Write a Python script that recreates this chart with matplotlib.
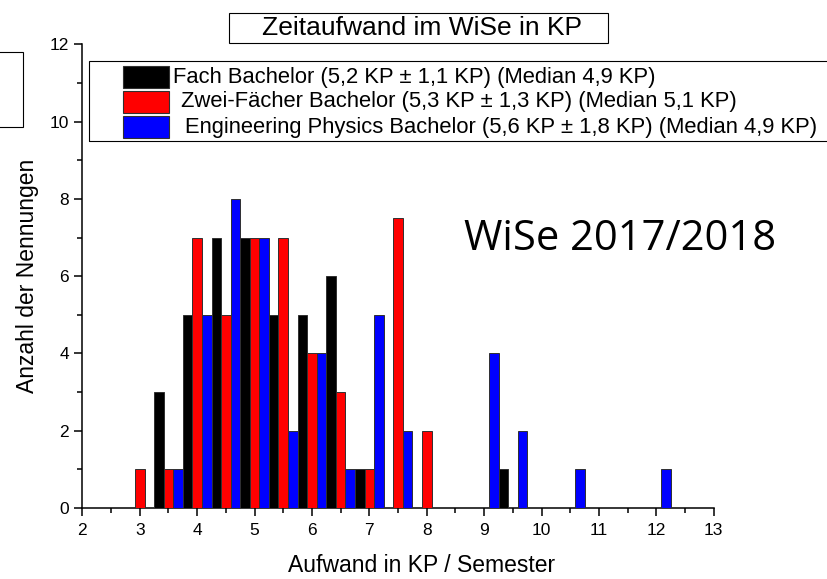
import numpy as np
import matplotlib.pyplot as plt
from matplotlib.patches import Rectangle
from matplotlib.ticker import MultipleLocator

# Klassenmitten (KP / Semester) und Anzahl der Nennungen
centers = [3.0, 3.5, 4.0, 4.5, 5.0, 5.5, 6.0, 6.5, 7.0, 7.5,
           8.0, 8.5, 9.0, 9.5, 10.0, 10.5, 11.0, 11.5, 12.0]
fach = [0, 3, 5, 7, 7, 5, 5, 6, 1, 0, 0, 0, 0, 1, 0, 0, 0, 0, 0]
zwei = [1, 1, 7, 5, 7, 7, 4, 3, 1, 7.5, 2, 0, 0, 0, 0, 0, 0, 0, 0]
eng = [0, 1, 5, 8, 7, 2, 4, 1, 5, 2, 0, 0, 4, 2, 0, 1, 0, 0, 1]

labels = ["Fach Bachelor (5,2 KP \u00b1 1,1 KP) (Median 4,9 KP)",
          "Zwei-F\u00e4cher Bachelor (5,3 KP \u00b1 1,3 KP) (Median 5,1 KP)",
          "Engineering Physics Bachelor (5,6 KP \u00b1 1,8 KP) (Median 4,9 KP)"]
colors = ["#000000", "#ff0000", "#0000ff"]
text_x = [173, 181, 185]   # Einrueckung der Legendentexte (px)

plt.rcParams['font.family'] = ['Liberation Sans', 'DejaVu Sans']

fig = plt.figure(figsize=(8.28, 5.79), dpi=100)
ax = fig.add_axes([0.0995, 0.1225, 0.7625, 0.801])

w = 0.5 / 3
x = np.array(centers)
for k, (vals, c) in enumerate(zip([fach, zwei, eng], colors)):
    v = np.array(vals, dtype=float)
    m = v > 0
    ax.bar(x[m] + (k - 1) * w, v[m], width=w, color=c,
           edgecolor="#303030", linewidth=0.7, zorder=3)

ax.set_xlim(2, 13)
ax.set_ylim(0, 12)
ax.xaxis.set_major_locator(MultipleLocator(1))
ax.xaxis.set_minor_locator(MultipleLocator(0.5))
ax.yaxis.set_major_locator(MultipleLocator(2))
ax.yaxis.set_minor_locator(MultipleLocator(1))
ax.spines['top'].set_visible(False)
ax.spines['right'].set_visible(False)
for s in ['left', 'bottom']:
    ax.spines[s].set_linewidth(1.1)
ax.tick_params(which='major', direction='out', length=6, width=1.1, labelsize=12.5)
ax.tick_params(axis='x', which='major', pad=5)
ax.tick_params(which='minor', direction='out', length=3.5, width=1.1)

ax.set_xlabel("Aufwand in KP / Semester", fontsize=16.5, va='center')
ax.xaxis.set_label_coords(0.537, -0.123)
ax.set_ylabel("Anzahl der Nennungen", fontsize=16.5, labelpad=8)

# Titel im Kasten
fig.text(0.51, 0.952, "Zeitaufwand im WiSe in KP", ha='center', va='center',
         fontsize=19)
fig.add_artist(Rectangle((0.277, 0.926), 0.457, 0.051, transform=fig.transFigure,
                         fill=False, edgecolor='black', linewidth=0.8))

# angeschnittener Kasten links
fig.add_artist(Rectangle((-0.01, 0.78), 0.038, 0.13, transform=fig.transFigure,
                         fill=False, edgecolor='black', linewidth=0.8))

# Legende (Rahmen, Farbfelder, Texte)
W, H = 828.0, 579.0
fig.add_artist(Rectangle((89 / W, 1 - 141 / H), 1.0, 80 / H, transform=fig.transFigure,
                         fill=False, edgecolor='black', linewidth=0.8))
for i, (lab, c) in enumerate(zip(labels, colors)):
    top = 66 + 25 * i
    fig.add_artist(Rectangle((123 / W, 1 - (top + 22) / H), 46 / W, 22 / H,
                             transform=fig.transFigure, facecolor=c,
                             edgecolor='#303030', linewidth=0.8))
    fig.text(text_x[i] / W, 1 - (top + 11) / H, lab, ha='left', va='center',
             fontsize=15.8)

fig.text(0.749, 0.588, "WiSe 2017/2018", ha='center', va='center',
         fontsize=30, family=['Open Sans', 'DejaVu Sans'])

fig.savefig("out.png", dpi=100)
